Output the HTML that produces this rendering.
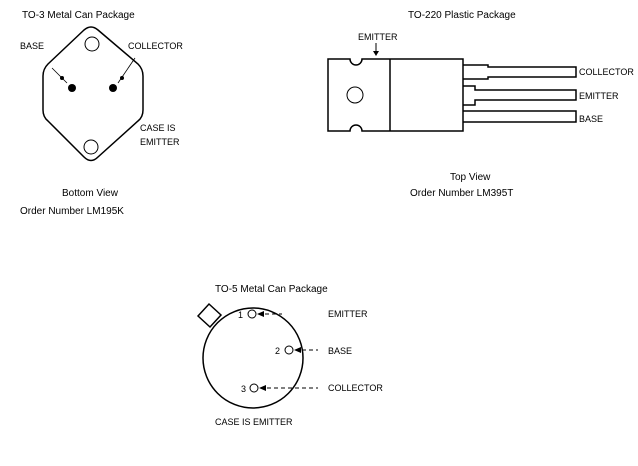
<!DOCTYPE html>
<html><head><style>
html,body{margin:0;padding:0;background:#fff;}
svg{display:block;}
text{font-family:"Liberation Sans",sans-serif;font-size:10px;fill:#000;}
.s{font-size:9px;}
</style></head><body>
<svg width="638" height="466" viewBox="0 0 638 466">
<g fill="none" stroke="#000" stroke-width="1.5">
<!-- TO-3 -->
<path d="M84,30 Q91,24 98,30 L138,64 Q143,69 143,76 L143,110 Q143,117 138,121 L98,157 Q91,164 84,157 L48,121 Q43,117 43,110 L43,76 Q43,69 48,64 Z"/>
<circle cx="92" cy="44" r="7" stroke-width="1"/>
<circle cx="91" cy="147" r="7" stroke-width="1"/>
<line x1="52" y1="68" x2="67" y2="83" stroke-width="0.8"/>
<line x1="135" y1="58" x2="118" y2="83" stroke-width="0.8"/>
</g>
<circle cx="72" cy="88" r="4"/><circle cx="113" cy="88" r="4"/>
<circle cx="62" cy="78" r="2"/><circle cx="122" cy="78" r="2"/>
<text x="22" y="18">TO-3 Metal Can Package</text>
<text x="20" y="49" class="s">BASE</text>
<text x="128" y="49" class="s">COLLECTOR</text>
<text x="140" y="131" class="s">CASE IS</text>
<text x="140" y="145" class="s">EMITTER</text>
<text x="62" y="196">Bottom View</text>
<text x="20" y="214">Order Number LM195K</text>

<!-- TO-220 -->
<g fill="none" stroke="#000" stroke-width="1.5">
<path d="M328,59 L350,59 A6,6 0 0 0 362,59 L463,59 L463,131 L362,131 A6,6 0 0 0 350,131 L328,131 Z"/>
<line x1="390" y1="59" x2="390" y2="131"/>
<circle cx="355" cy="95" r="8" stroke-width="1"/>
<path d="M463,65 L488,65 L488,67 L576,67 L576,77 L488,77 L488,79 L463,79"/>
<path d="M463,86 L475,86 L475,90 L576,90 L576,100 L475,100 L475,105 L463,105"/>
<path d="M463,111 L576,111 L576,122 L463,122"/>
<line x1="376" y1="43" x2="376" y2="55" stroke-width="1"/>
</g>
<path d="M373,51 L376,56 L379,51 Z"/>
<text x="358" y="40" class="s">EMITTER</text>
<text x="408" y="18">TO-220 Plastic Package</text>
<text x="579" y="75" class="s">COLLECTOR</text>
<text x="579" y="99" class="s">EMITTER</text>
<text x="579" y="122" class="s">BASE</text>
<text x="450" y="180">Top View</text>
<text x="410" y="196">Order Number LM395T</text>

<!-- TO-5 -->
<g fill="none" stroke="#000" stroke-width="1.5">
<circle cx="253" cy="358" r="50"/>
<path d="M198,316 L209,304 L221,315 L210,327 Z" fill="#fff"/>
<circle cx="252" cy="314" r="4" stroke-width="1"/>
<circle cx="289" cy="350" r="4" stroke-width="1"/>
<circle cx="254" cy="388" r="4" stroke-width="1"/>
<g stroke-width="1" stroke-dasharray="4,3">
<line x1="258" y1="314" x2="282" y2="314"/>
<line x1="295" y1="350" x2="318" y2="350"/>
<line x1="260" y1="388" x2="318" y2="388"/>
</g>
</g>
<path d="M257,314 L264,311 L264,317 Z"/>
<path d="M294,350 L301,347 L301,353 Z"/>
<path d="M259,388 L266,385 L266,391 Z"/>
<text x="238" y="318" class="s">1</text>
<text x="275" y="354" class="s">2</text>
<text x="241" y="392" class="s">3</text>
<text x="328" y="317" class="s">EMITTER</text>
<text x="328" y="354" class="s">BASE</text>
<text x="328" y="391" class="s">COLLECTOR</text>
<text x="215" y="292">TO-5 Metal Can Package</text>
<text x="215" y="425" class="s">CASE IS EMITTER</text>
</svg>
</body></html>
